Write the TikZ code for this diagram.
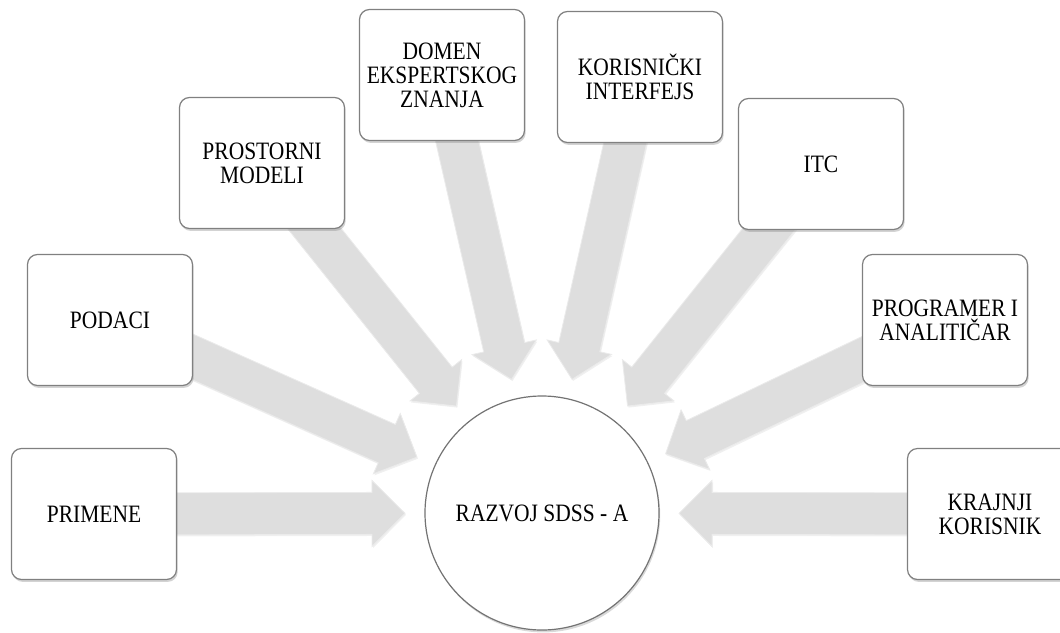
\documentclass[tikz,border=0pt]{standalone}
\usepackage{fontspec}
\setmainfont{Liberation Serif}[FakeStretch=0.86]
\usetikzlibrary{calc,shadows,backgrounds}

\tikzset{
  every picture/.style={x=0.5pt,y=-0.5pt},
  itembox/.style={draw=black!50, line width=0.6pt, fill=white,
    rounded corners=5pt, minimum width=82.5pt, minimum height=65.5pt,
    align=center, font=\fontsize{12.5}{12}\selectfont, text=black,
    drop shadow={shadow xshift=0.6pt, shadow yshift=-1.2pt, opacity=0.35}},
  hub/.style={circle, draw=black!55, line width=0.6pt, fill=white,
    minimum size=117pt, inner sep=0pt,
    font=\fontsize{12.5}{12}\selectfont, text=black,
    drop shadow={shadow xshift=0.6pt, shadow yshift=-1.2pt, opacity=0.3}},
  flow/.style={fill=black!13, draw=black!8, line width=0.4pt,
    drop shadow={shadow xshift=0.5pt, shadow yshift=-0.8pt, opacity=0.12}}
}

% block arrow from the centre of node #1 to the coordinate #2
\newcommand\convarrow[2]{%
  \path[flow]
    ($(#1)!10.5pt!90:(#2)$) --
    ($($(#2)!16.5pt!(#1)$)!10.5pt!90:(#2)$) --
    ($($(#2)!16.5pt!(#1)$)!16.5pt!90:(#2)$) --
    (#2) --
    ($($(#2)!16.5pt!(#1)$)!16.5pt!-90:(#2)$) --
    ($($(#2)!16.5pt!(#1)$)!10.5pt!-90:(#2)$) --
    ($(#1)!10.5pt!-90:(#2)$) -- cycle;}

\begin{document}
\begin{tikzpicture}
  \useasboundingbox (0,0) rectangle (1060,632);
  \clip (0,0) rectangle (1060,632);

  % outer items
  \node[itembox] (primene)   at (94,514)  {PRIMENE};
  \node[itembox] (podaci)    at (110,320) {PODACI};
  \node[itembox] (prostorni) at (262,163) {PROSTORNI\\MODELI};
  \node[itembox] (domen)     at (442,75)  {DOMEN\\EKSPERTSKOG\\ZNANJA};
  \node[itembox] (korisn)    at (640,77)  {KORISNIČKI\\INTERFEJS};
  \node[itembox] (itc)       at (821,164) {ITC};
  \node[itembox] (program)   at (945,320) {PROGRAMER I\\ANALITIČAR};
  \node[itembox] (krajnji)   at (990,514) {KRAJNJI\\KORISNIK};

  % central goal
  \node[hub] (razvoj) at (542,513) {RAZVOJ SDSS - A};

  % arrow tips, all at the same distance from the centre
  \foreach \n in {primene,podaci,prostorni,domen,korisn,itc,program,krajnji}
    \coordinate (tip-\n) at ($(razvoj.center)!68.5pt!(\n.center)$);

  \begin{pgfonlayer}{background}
    \foreach \n in {primene,podaci,prostorni,domen,korisn,itc,program,krajnji}
      \convarrow{\n.center}{tip-\n};
  \end{pgfonlayer}
\end{tikzpicture}
\end{document}
